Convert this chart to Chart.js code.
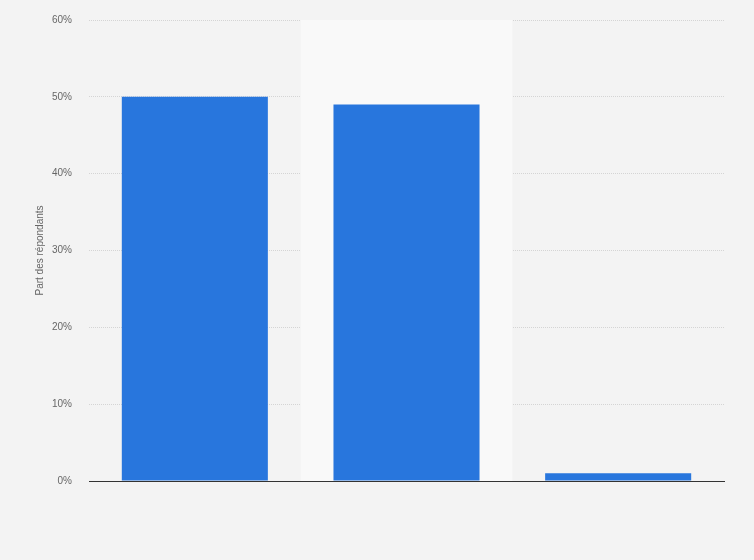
<!DOCTYPE html>
<html>
<head>
<meta charset="utf-8">
<script src="https://cdn.jsdelivr.net/npm/chart.js@4"></script>
<style>
  html, body { margin: 0; padding: 0; background: #f3f3f3; }
  #wrap { width: 754px; height: 560px; }
</style>
</head>
<body>
<div id="wrap"><canvas id="chart"></canvas></div>
<script>
var categories = ['1', '2', '3'];
var shares = [50, 49, 1];
var yTicks = [0, 10, 20, 30, 40, 50, 60];
var highlighted = 1;

// pale band behind the hovered column
var bandPlugin = {
    id: 'band',
    beforeDatasetsDraw: function (chart) {
        var x = chart.scales.x, area = chart.chartArea;
        var half = (x.getPixelForValue(1) - x.getPixelForValue(0)) / 2;
        var cx = x.getPixelForValue(highlighted);
        var ctx = chart.ctx;
        ctx.save();
        ctx.fillStyle = '#f9f9f9';
        ctx.fillRect(cx - half, area.top, half * 2, area.bottom - area.top);
        ctx.restore();
    }
};

Chart.defaults.font.family = '"Liberation Sans", Arial, sans-serif';
Chart.defaults.color = '#666';

new Chart(document.getElementById('chart'), {
    type: 'bar',
    data: {
        labels: categories,
        datasets: [{
            data: shares,
            backgroundColor: '#2876dd',
            barPercentage: 0.69,
            categoryPercentage: 1
        }]
    },
    options: {
        responsive: true,
        maintainAspectRatio: false,
        animation: false,
        layout: { padding: { left: 30, right: 30, top: 20, bottom: 71 } },
        plugins: { legend: { display: false }, tooltip: { enabled: false } },
        scales: {
            x: {
                grid: { display: false },
                ticks: { display: false },
                border: { display: true, color: '#333', width: 1, z: 1 }
            },
            y: {
                min: 0,
                max: 60,
                afterFit: function (scale) {
                    scale.width = 59;
                    scale.paddingTop = 0;
                    scale.paddingBottom = 0;
                },
                afterBuildTicks: function (scale) {
                    scale.ticks = yTicks.map(function (v) { return { value: v }; });
                },
                grid: { color: '#d4d4d4', drawTicks: false },
                border: { display: false, dash: [1, 1] },
                ticks: {
                    padding: 17,
                    font: { size: 10 },
                    color: '#666',
                    callback: function (v) { return v + '%'; }
                },
                title: {
                    display: true,
                    text: 'Part des répondants',
                    font: { size: 10 },
                    color: '#666',
                    padding: { top: 4, bottom: 0 }
                }
            }
        }
    },
    plugins: [bandPlugin]
});
</script>
</body>
</html>
